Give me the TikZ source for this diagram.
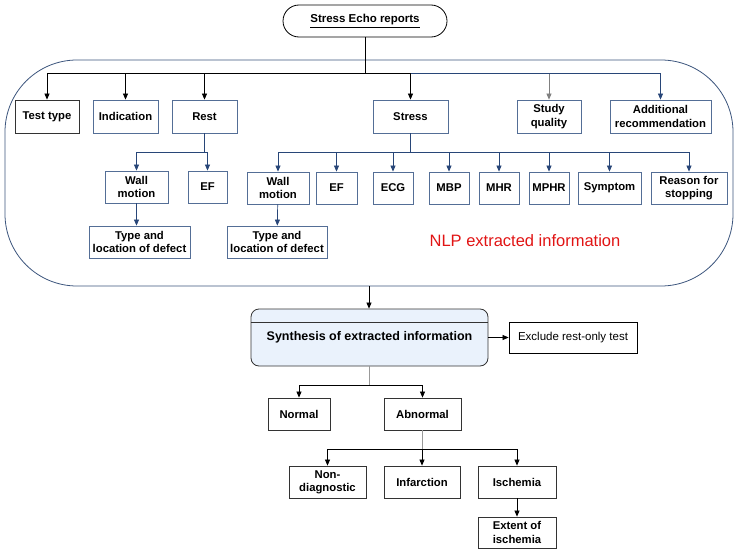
\documentclass[tikz,border=0pt]{standalone}
\usepackage{fontspec}
\setmainfont{Liberation Sans}
\usetikzlibrary{arrows.meta}
\definecolor{boxblue}{RGB}{84,110,150}
\definecolor{navy}{RGB}{40,70,120}
\definecolor{regionc}{RGB}{60,85,125}
\definecolor{synthfill}{RGB}{234,242,252}
\definecolor{nlpred}{RGB}{225,20,20}
\tikzset{
  box/.style={draw=boxblue, fill=white, line width=0.8pt, align=center, inner sep=1pt,
    font=\bfseries\fontsize{11.3}{13.3}\selectfont, text=black},
  blackbox/.style={box, draw=black!80},
  arr/.style={-{Triangle[length=6pt,width=5pt]}, line width=0.7pt, draw=black},
  navyarr/.style={arr, draw=navy, -{Triangle[length=6pt,width=5pt,fill=navy]}},
  grayarr/.style={arr, draw=gray},
  stem/.style={line width=0.7pt, draw=black},
  graystem/.style={line width=0.7pt, draw=gray!80},
  navystem/.style={line width=0.7pt, draw=navy},
}
\begin{document}
\begin{tikzpicture}[x=1pt,y=-1pt]
\useasboundingbox (0,0) rectangle (740,554);
% region
\node[draw=regionc, line width=0.8pt, rounded corners=72pt, minimum width=728pt, minimum height=226pt, inner sep=0pt] (nlp) at (369,173) {};
\node[font=\fontsize{16.5}{19}\selectfont, text=nlpred] (nlplabel) at (525,241) {NLP extracted information};
% top
\node[draw=black, line width=0.8pt, rounded corners=16pt, minimum width=164pt, minimum height=32pt, font=\bfseries\fontsize{11.5}{13}\selectfont] (top) at (365,21) {\underline{Stress Echo reports}};
% first row
\node[blackbox, minimum width=64pt, minimum height=33pt] (testtype) at (47,116.5) {Test type};
\node[box, minimum width=65pt, minimum height=33pt] (indication) at (125.5,116.5) {Indication};
\node[box, minimum width=65pt, minimum height=33pt] (rest) at (204.5,116.5) {Rest};
\node[box, minimum width=75pt, minimum height=33pt] (stress) at (410.5,116.5) {Stress};
\node[box, minimum width=64pt, minimum height=33pt] (quality) at (549,116.5) {Study\\quality};
\node[box, minimum width=101pt, minimum height=33pt] (addrec) at (660.5,116.5) {Additional\\recommendation};
% rest children
\node[box, minimum width=63pt, minimum height=32pt] (rwall) at (136.5,187) {Wall\\motion};
\node[box, minimum width=39pt, minimum height=32pt] (ref) at (207.5,187) {EF};
\node[box, minimum width=101pt, minimum height=32pt] (rtype) at (139.5,242) {Type and\\location of defect};
% stress children
\node[box, minimum width=62pt, minimum height=32pt] (swall) at (278,188) {Wall\\motion};
\node[box, minimum width=41pt, minimum height=32pt] (sef) at (336.5,188) {EF};
\node[box, minimum width=40pt, minimum height=32pt] (ecg) at (393,188) {ECG};
\node[box, minimum width=40pt, minimum height=32pt] (mbp) at (449,188) {MBP};
\node[box, minimum width=40pt, minimum height=32pt] (mhr) at (499,188) {MHR};
\node[box, minimum width=40pt, minimum height=32pt] (mphr) at (549,188) {MPHR};
\node[box, minimum width=63pt, minimum height=32pt] (symptom) at (609.5,188) {Symptom};
\node[box, minimum width=76pt, minimum height=32pt] (reason) at (689,188) {Reason for\\stopping};
\node[box, minimum width=100pt, minimum height=32pt] (stype) at (277,242) {Type and\\location of defect};
% synthesis
\node[draw=black!80, fill=synthfill, line width=0.8pt, rounded corners=8pt, minimum width=237pt, minimum height=57pt, font=\bfseries\fontsize{12.5}{15}\selectfont] (synth) at (369.5,337.5) {Synthesis of extracted information};
\draw[black!80, line width=0.8pt] ([yshift=-14pt]synth.north west) -- ([yshift=-14pt]synth.north east);
\node[draw=black, line width=0.8pt, minimum width=128pt, minimum height=31pt, font=\fontsize{11.5}{13}\selectfont] (exclude) at (573,337.5) {Exclude rest-only test};
% outcomes
\node[blackbox, minimum width=62pt, minimum height=32pt] (normal) at (299,414) {Normal};
\node[blackbox, minimum width=77pt, minimum height=32pt] (abnormal) at (422.5,414) {Abnormal};
\node[blackbox, minimum width=77pt, minimum height=32pt] (nondiag) at (327.5,482) {Non-\\diagnostic};
\node[blackbox, minimum width=76pt, minimum height=32pt] (infarction) at (422,482) {Infarction};
\node[blackbox, minimum width=78pt, minimum height=32pt] (ischemia) at (517,482) {Ischemia};
\node[blackbox, minimum width=78pt, minimum height=31pt] (extent) at (517,532.5) {Extent of\\ischemia};
% connectors top level
\coordinate (bar) at (365,73);
\coordinate (bar2) at (410.5,73);
\draw[stem] (top.south) -- (bar);
\draw[arr] (bar) -| (testtype);
\draw[arr] (bar) -| (indication);
\draw[arr] (bar) -| (rest);
\draw[arr] (bar) -| (stress);
\draw[grayarr] (bar2) -| (quality);
\draw[navyarr] (bar2) -| (addrec);
% rest branch
\coordinate (rb) at (204.5,152);
\draw[navystem] (rest) -- (rb);
\draw[navyarr] (rb) -| (rwall);
\draw[navyarr] (rb) -| (ref);
\draw[navyarr] (rwall.south) -- (rwall.south |- rtype.north);
% stress branch
\coordinate (sb) at (410.5,152);
\draw[navystem] (stress) -- (sb);
\foreach \n in {swall,sef,ecg,mbp,mhr,mphr,symptom,reason}
  \draw[navyarr] (sb) -| (\n);
\draw[navyarr] (swall) -- (stype);
% synthesis
\draw[arr] (nlp.south) -- (nlp.south |- synth.north);
\draw[arr] (synth) -- (exclude);
\coordinate (cb) at (369.5,385);
\draw[graystem] (synth) -- (cb);
\draw[arr] (cb) -| (normal);
\draw[arr] (cb) -| (abnormal);
\coordinate (ab) at (422.5,449);
\draw[graystem] (abnormal) -- (ab);
\draw[arr] (ab) -| (nondiag);
\draw[arr] (ab) -| (infarction);
\draw[arr] (ab) -| (ischemia);
\draw[arr] (ischemia) -- (extent);
\end{tikzpicture}
\end{document}
